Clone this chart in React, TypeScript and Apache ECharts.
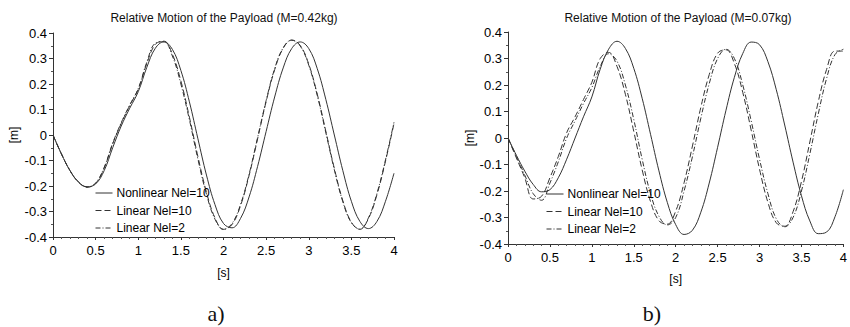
import React, { useEffect, useRef } from "react";
import * as echarts from "echarts";

const TIME = [
  0, 0.1, 0.2, 0.3, 0.4, 0.5, 0.6, 0.7, 0.8, 0.9, 1.0,
  1.1, 1.2, 1.3, 1.4, 1.5, 1.6, 1.7, 1.8, 1.9, 2.0,
  2.1, 2.2, 2.3, 2.4, 2.5, 2.6, 2.7, 2.8, 2.9, 3.0,
  3.1, 3.2, 3.3, 3.4, 3.5, 3.6, 3.7, 3.8, 3.9, 4.0,
];

const SERIES_NAMES = ["Nonlinear Nel=10", "Linear Nel=10", "Linear Nel=2"];
const PANEL_TITLES = ["Relative Motion of the Payload (M=0.42kg)", "Relative Motion of the Payload (M=0.07kg)"];
const PANEL_CAPTIONS = ["a)", "b)"];

// Panel a) M = 0.42 kg
const A_NONLINEAR_10 = [
  0, -0.075, -0.14, -0.185, -0.203, -0.192, -0.14, -0.05, 0.035, 0.105, 0.17,
  0.265, 0.34, 0.365, 0.336, 0.253, 0.13, -0.015, -0.157, -0.273, -0.347,
  -0.364, -0.327, -0.243, -0.123, 0.014, 0.149, 0.263, 0.339, 0.365, 0.339,
  0.26, 0.14, 0.0, -0.14, -0.26, -0.339, -0.367, -0.339, -0.26, -0.15,
];
const A_LINEAR_10 = [
  0, -0.075, -0.14, -0.185, -0.205, -0.19, -0.13, -0.035, 0.045, 0.115, 0.18,
  0.28, 0.355, 0.368, 0.317, 0.212, 0.07, -0.085, -0.224, -0.325, -0.37,
  -0.351, -0.277, -0.159, -0.015, 0.131, 0.256, 0.34, 0.372, 0.351, 0.278,
  0.16, 0.015, -0.131, -0.258, -0.342, -0.37, -0.328, -0.234, -0.103, 0.045,
];
const A_LINEAR_2 = [
  0, -0.075, -0.14, -0.184, -0.204, -0.188, -0.127, -0.032, 0.048, 0.118, 0.182,
  0.285, 0.36, 0.366, 0.31, 0.2, 0.06, -0.095, -0.232, -0.33, -0.37,
  -0.347, -0.272, -0.154, -0.01, 0.135, 0.26, 0.342, 0.372, 0.349, 0.274,
  0.155, 0.01, -0.136, -0.262, -0.344, -0.369, -0.325, -0.229, -0.098, 0.05,
];

// Panel b) M = 0.07 kg
const B_NONLINEAR_10 = [
  0, -0.065, -0.125, -0.175, -0.203, -0.195, -0.15, -0.08, 0.0, 0.08, 0.155,
  0.26, 0.335, 0.365, 0.338, 0.263, 0.15, 0.014, -0.124, -0.243, -0.327,
  -0.364, -0.348, -0.28, -0.17, -0.035, 0.105, 0.229, 0.319, 0.362, 0.352,
  0.288, 0.182, 0.049, -0.091, -0.218, -0.313, -0.361, -0.355, -0.297, -0.195,
];
const B_LINEAR_10 = [
  0, -0.075, -0.15, -0.23, -0.22, -0.15, -0.07, 0.02, 0.08, 0.145, 0.21,
  0.3, 0.323, 0.27, 0.165, 0.025, -0.12, -0.24, -0.312, -0.325, -0.276,
  -0.169, -0.03, 0.116, 0.239, 0.32, 0.333, 0.281, 0.172, 0.03, -0.118,
  -0.243, -0.32, -0.333, -0.278, -0.164, -0.015, 0.136, 0.259, 0.328, 0.328,
];
const B_LINEAR_2 = [
  0, -0.07, -0.14, -0.21, -0.235, -0.17, -0.09, 0.0, 0.065, 0.13, 0.19,
  0.27, 0.318, 0.29, 0.2, 0.07, -0.08, -0.21, -0.295, -0.328, -0.3,
  -0.2, -0.07, 0.075, 0.205, 0.3, 0.335, 0.3, 0.2, 0.065, -0.08,
  -0.21, -0.305, -0.335, -0.3, -0.2, -0.06, 0.09, 0.225, 0.315, 0.335,
];

const PANEL_DATA = [
  [A_NONLINEAR_10, A_LINEAR_10, A_LINEAR_2],
  [B_NONLINEAR_10, B_LINEAR_10, B_LINEAR_2],
];

export default function App() {
  const ref = useRef<HTMLDivElement>(null);

  useEffect(() => {
    if (!ref.current) return;
    const chart = echarts.init(ref.current, null, { renderer: "svg" });
    const font = "'Liberation Sans', Arial, sans-serif";
    const ink = "#000";
    const lineColor = "#333";
    const dashTypes: any[] = ["solid", [6, 3], [5, 2, 1, 2]];

    const grids = [
      { left: 53, top: 33, width: 341, height: 204 },
      { left: 508, top: 32, width: 340, height: 212 },
    ];
    const titleX = [224, 678];
    const captionX = [216, 652];
    const legendPos = [
      { left: 95, top: 187 },
      { left: 546, top: 188 },
    ];
    const xNameGap = [30, 29];
    const yNameGap = [33, 31];

    const xAxes = grids.map((_, i) => ({
      type: "value",
      gridIndex: i,
      min: 0,
      max: 4,
      interval: 0.5,
      splitLine: { show: false },
      axisLine: { show: true, onZero: false, lineStyle: { color: "#333", width: 1 } },
      axisTick: { show: true, length: 3, lineStyle: { color: "#333" } },
      minorTick: { show: true, splitNumber: 5, length: 2, lineStyle: { color: "#555" } },
      axisLabel: { fontSize: 13, color: ink, fontFamily: font, margin: 7 },
      name: "[s]",
      nameLocation: "middle",
      nameGap: xNameGap[i],
      nameTextStyle: { fontSize: 12, color: ink, fontFamily: font },
    }));
    const yAxes = grids.map((_, i) => ({
      type: "value",
      gridIndex: i,
      min: -0.4,
      max: 0.4,
      interval: 0.1,
      splitLine: { show: false },
      axisLine: { show: true, onZero: false, lineStyle: { color: "#333", width: 1 } },
      axisTick: { show: true, length: 4, lineStyle: { color: "#333" } },
      minorTick: { show: true, splitNumber: 2, length: 2, lineStyle: { color: "#555" } },
      axisLabel: { fontSize: 13, color: ink, fontFamily: font, margin: 6 },
      name: "[m]",
      nameLocation: "middle",
      nameRotate: 90,
      nameGap: yNameGap[i],
      nameTextStyle: { fontSize: 12, color: ink, fontFamily: font },
    }));

    const series: any[] = [];
    PANEL_DATA.forEach((panel, p) => {
      panel.forEach((vals, s) => {
        series.push({
          type: "line",
          name: SERIES_NAMES[s],
          xAxisIndex: p,
          yAxisIndex: p,
          data: TIME.map((t, k) => [t, vals[k]]),
          smooth: 0.4,
          symbol: "none",
          showSymbol: false,
          lineStyle: { color: lineColor, width: 1, type: dashTypes[s] },
          itemStyle: { color: lineColor },
          z: 3 - s,
        });
      });
    });

    const graphic: any[] = [];
    PANEL_TITLES.forEach((t, i) => {
      graphic.push({
        type: "text",
        x: titleX[i],
        y: 18,
        style: { text: t, fontSize: 12, fontFamily: font, fill: "#111", align: "center", verticalAlign: "middle" },
      });
      graphic.push({
        type: "text",
        x: captionX[i],
        y: 313,
        style: {
          text: PANEL_CAPTIONS[i],
          fontSize: 22,
          fontFamily: "'Liberation Serif', 'Times New Roman', serif",
          fill: "#111",
          align: "center",
          verticalAlign: "middle",
        },
      });
    });

    chart.setOption({
      animation: false,
      backgroundColor: "#fff",
      grid: grids,
      xAxis: xAxes,
      yAxis: yAxes,
      legend: legendPos.map((pos) => ({
        ...pos,
        padding: 0,
        orient: "vertical",
        itemWidth: 17,
        itemHeight: 12,
        itemGap: 5.5,
        selectedMode: false,
        data: SERIES_NAMES,
        itemStyle: { color: "rgba(0,0,0,0)", borderWidth: 0, opacity: 0 },
        lineStyle: { width: 1 },
        textStyle: { fontSize: 12, color: ink, fontFamily: font, padding: [0, 0, 0, -1] },
      })),
      series,
      graphic,
    });

    return () => chart.dispose();
  }, []);

  return (
    <div
      ref={ref}
      style={{ position: "fixed", left: 0, top: 0, width: 850, height: 327, background: "#fff" }}
    />
  );
}
